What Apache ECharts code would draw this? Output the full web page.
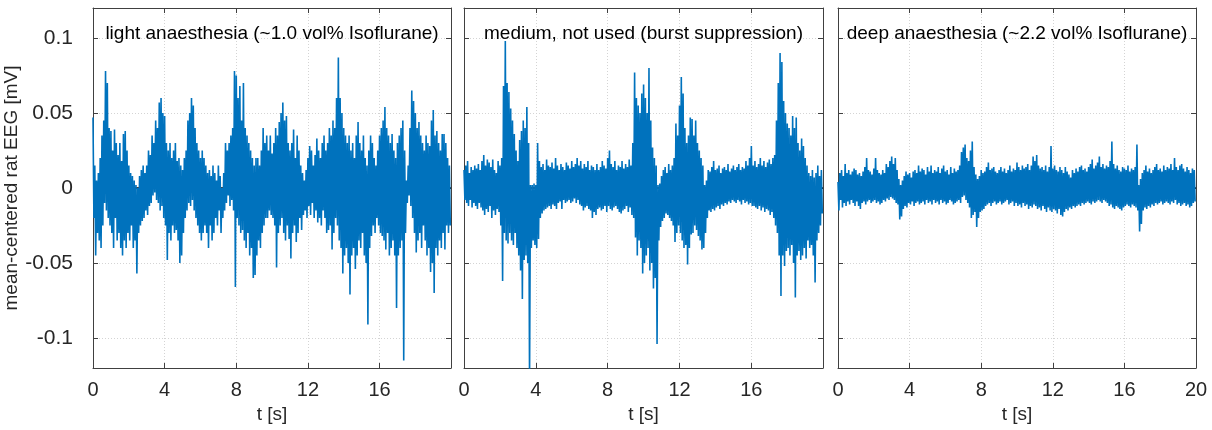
<!DOCTYPE html>
<html><head><meta charset="utf-8">
<script src="https://cdn.jsdelivr.net/npm/echarts@6/dist/echarts.min.js"></script>
<style>html,body{margin:0;padding:0;background:#fff}#c{width:1212px;height:430px}</style>
</head><body><div id="c"></div>
<script>
// ---- data (in microvolts; envelope per 0.1 s bin) ----
const panelTitles = ['light anaesthesia (~1.0 vol% Isoflurane)', 'medium, not used (burst suppression)', 'deep anaesthesia (~2.2 vol% Isoflurane)'];
const xTicks = [0, 4, 8, 12, 16, 20];
const yTicks = [-0.1, -0.05, 0, 0.05, 0.1];
const binStep = 0.1; // s, width of each envelope bin
const xAxisName = 't [s]';
const yAxisName = 'mean-centered rat EEG [mV]';

const lightHi = [47,15,5,10,20,35,45,78,70,40, 38,25,39,30,22,30,18,36,38,25, 15,10,8,5,2,0,8,12,15,10, 15,25,22,35,30,45,40,57,60,50,
 48,30,25,30,20,25,30,18,20,15, 12,20,25,45,50,60,55,40,30,25, 20,25,20,15,10,12,8,15,10,5, 15,8,0,10,30,25,30,35,40,78,
 75,60,68,45,70,40,35,30,25,20, 15,20,20,15,25,40,30,35,25,35,
 23,30,40,35,44,50,57,45,48,30, 25,30,39,20,35,25,15,10,5,12, 20,28,25,15,22,33,25,20,30,35, 25,30,40,35,45,40,60,87,60,50,
 40,35,30,35,25,30,20,35,44,30, 25,35,20,15,25,35,30,20,15,25, 35,40,45,54,40,35,30,36,25,20, 30,35,40,45,25,5,15,40,65,58,
 50,40,44,35,30,25,35,30,28,45, 52,35,38,30,25,36,36,30,20,15];
const lightLo = [-20,-45,-30,-35,-40,-25,-10,-15,-20,-25, -30,-40,-20,-35,-30,-40,-45,-35,-40,-30, -35,-25,-40,-35,-57,-30,-25,-22,-20,-15, -18,-12,-10,-5,-3,-8,-10,-15,-12,-20,
 -25,-48,-30,-35,-25,-30,-28,-35,-50,-45, -30,-20,-15,-10,-12,-8,-15,-20,-25,-30, -35,-30,-25,-30,-40,-25,-35,-30,-20,-25, -15,-30,-20,-15,-10,-5,-12,-8,-15,-66,
 -20,-25,-30,-28,-35,-40,-30,-45,-40,-60, -58,-45,-35,-40,-30,-25,-20,-20,-15,-18,
 -20,-25,-53,-30,-25,-20,-30,-35,-25,-34, -47,-30,-25,-36,-30,-20,-28,-18,-15,-20, -12,-18,-10,-20,-15,-23,-20,-25,-15,-20, -30,-28,-25,-41,-30,-20,-25,-35,-40,-57,
 -45,-40,-50,-71,-45,-40,-54,-45,-35,-40, -30,-45,-50,-91,-40,-32,-25,-30,-20,-25, -30,-32,-35,-41,-30,-45,-40,-35,-45,-80, -45,-40,-35,-115,-30,-10,-5,-12,-20,-30,
 -43,-35,-30,-40,-25,-35,-45,-40,-56,-50, -70,-40,-45,-35,-40,-30,-41,-25,-30,-25];

const mediumHi = [12,15,18,10,14,12,15,13,16,12, 18,22,15,19,17,14,19,12,10,18, 15,20,68,98,70,64,53,45,36,25, 18,32,38,45,40,54,30,2,2,3,
 2,30,18,14,16,12,19,15,14,17, 13,20,15,12,16,14,12,17,15,13, 18,14,16,20,15,18,13,16,14,18, 12,15,14,12,16,12,14,18,15,13,
 20,25,16,14,18,12,15,14,18,13, 16,14,19,15,30,77,60,55,50,63,
 69,60,50,80,45,27,20,15,2,3, 8,12,14,10,16,12,15,20,43,35, 55,74,63,40,30,35,47,46,35,45, 30,25,20,15,2,5,12,11,14,18,
 12,13,15,10,13,14,12,16,11,13, 15,12,14,16,12,14,13,18,15,20, 28,15,18,14,16,20,15,18,14,17, 19,16,20,22,45,70,90,84,58,50,
 43,40,35,48,40,47,30,25,33,28, 20,15,10,8,12,7,10,15,8,12];
const mediumLo = [-8,-10,-12,-8,-13,-10,-12,-14,-10,-13, -15,-18,-14,-16,-12,-20,-15,-18,-14,-16, -25,-62,-30,-35,-37,-30,-35,-38,-30,-40, -45,-55,-74,-48,-45,-50,-130,-40,-35,-38,
 -40,-34,-20,-17,-15,-14,-13,-12,-14,-11, -12,-14,-10,-9,-14,-8,-10,-9,-8,-10, -9,-7,-10,-8,-11,-12,-15,-13,-12,-14, -15,-20,-16,-18,-14,-13,-15,-14,-12,-16,
 -12,-14,-15,-13,-12,-14,-16,-17,-15,-14, -12,-16,-13,-18,-20,-33,-45,-35,-40,-57,
 -50,-45,-40,-55,-50,-67,-60,-104,-35,-26, -22,-20,-17,-18,-20,-22,-25,-36,-30,-25, -30,-35,-40,-38,-51,-40,-31,-30,-25,-28, -32,-35,-41,-40,-30,-20,-15,-16,-14,-15,
 -13,-12,-14,-11,-12,-10,-11,-9,-10,-8, -9,-10,-8,-9,-11,-8,-10,-9,-11,-10, -12,-12,-13,-14,-12,-15,-13,-16,-14,-15, -18,-16,-20,-25,-30,-45,-72,-45,-52,-42,
 -40,-45,-38,-50,-73,-45,-42,-48,-45,-40, -47,-35,-40,-38,-45,-63,-35,-30,-25,-17];

const deepHi = [4,10,12,8,16,10,12,9,11,13, 12,9,10,8,11,14,20,12,11,9, 13,20,12,10,9,12,10,16,14,18, 21,16,20,12,6,2,5,8,11,9,
 10,7,11,12,10,15,11,13,12,9, 14,11,15,10,12,11,14,10,13,15, 11,12,9,14,10,13,11,12,15,24, 27,29,20,18,25,31,14,9,6,8,
 12,10,11,14,17,12,13,14,11,10, 12,14,11,13,10,12,15,11,13,12,
 17,14,12,15,13,14,16,12,15,21, 18,22,15,13,14,12,15,11,14,28, 13,15,12,11,14,12,10,14,11,9, 7,12,10,13,11,14,15,12,13,11,
 14,16,19,13,15,17,21,14,16,13, 15,14,18,31,16,13,15,12,11,14, 13,12,15,11,13,12,14,29,2,6, 10,12,15,11,13,10,12,14,16,12,
 13,11,15,12,14,13,16,12,20,14, 12,15,16,13,11,14,12,10,13,12];
const deepLo = [-15,-8,-13,-10,-12,-9,-11,-8,-10,-12, -9,-12,-14,-10,-9,-11,-9,-8,-10,-9, -8,-10,-9,-11,-10,-8,-9,-7,-8,-6, -7,-8,-10,-11,-21,-19,-14,-12,-13,-10,
 -11,-9,-12,-10,-9,-11,-10,-9,-11,-8, -10,-9,-11,-8,-10,-9,-11,-8,-10,-9, -11,-10,-8,-9,-11,-10,-9,-8,-10,-6, -5,-8,-10,-13,-20,-18,-16,-26,-20,-16,
 -15,-14,-12,-11,-10,-12,-10,-9,-11,-10, -9,-11,-10,-9,-8,-11,-10,-9,-12,-10,
 -12,-11,-13,-10,-12,-11,-14,-12,-13,-11, -12,-14,-13,-15,-12,-14,-16,-13,-15,-16, -14,-15,-17,-14,-18,-19,-16,-14,-15,-13, -14,-12,-13,-12,-11,-12,-10,-11,-10,-9,
 -10,-11,-9,-10,-9,-8,-9,-10,-8,-9, -10,-12,-11,-13,-14,-12,-13,-14,-15,-13, -12,-11,-12,-13,-11,-12,-13,-15,-29,-24, -15,-13,-14,-12,-13,-11,-12,-10,-11,-10,
 -9,-11,-10,-9,-10,-11,-9,-10,-8,-11, -10,-12,-11,-10,-12,-11,-13,-12,-10,-9];

// ---- chart ----
const FONT = "'Liberation Sans', Arial, Helvetica, sans-serif";
const AX = '#404040', TXT = '#262626', BLUE = '#0072BD';
const panels = [
  {hi: lightHi, lo: lightLo, left: 93, width: 358, xMax: 19.99},
  {hi: mediumHi, lo: mediumLo, left: 464, width: 359, xMax: 19.99},
  {hi: deepHi, lo: deepLo, left: 838, width: 358, xMax: 20}
];
function envelope(hi, lo) {
  const out = [];
  for (let i = 0; i < hi.length; i++) {
    const t = +(i * binStep).toFixed(3);
    out.push([t, hi[i] / 1000]);
    out.push([+(t + binStep / 2).toFixed(3), lo[i] / 1000]);
  }
  return out;
}
const isTick = (list, v) => list.some(t => Math.abs(t - v) < 1e-9);
const grid = [], xAxis = [], yAxis = [], series = [], graphic = [];
panels.forEach((p, k) => {
  grid.push({left: p.left, width: p.width, top: 8, height: 360, containLabel: false});
  const common = {gridIndex: k, type: 'value',
    axisLine: {show: true, onZero: false, lineStyle: {color: AX, width: 1}},
    axisTick: {show: true, inside: true, length: 5, lineStyle: {color: AX}}};
  xAxis.push(Object.assign({}, common, {position: 'bottom', min: 0, max: p.xMax, interval: 4,
    axisLabel: {fontSize: 20, color: TXT, fontFamily: FONT, margin: 12,
      formatter: v => isTick(xTicks, v) ? String(v) : ''},
    splitLine: {show: true, lineStyle: {type: [1, 2], color: '#d4d4d4', width: 1}},
    name: xAxisName, nameLocation: 'middle', nameGap: 37,
    nameTextStyle: {fontSize: 19, color: TXT, fontFamily: FONT}}));
  xAxis.push(Object.assign({}, common, {position: 'top', min: 0, max: p.xMax, interval: 4,
    axisLabel: {show: false}, splitLine: {show: false}}));
  yAxis.push(Object.assign({}, common, {position: 'left', min: -0.12, max: 0.12, splitNumber: 5,
    axisLabel: {show: k === 0, fontSize: 21, color: TXT, fontFamily: FONT, margin: 20,
      formatter: v => isTick(yTicks, v) ? String(v) : ''},
    splitLine: {show: true, lineStyle: {type: [1, 2], color: '#d4d4d4', width: 1}},
    name: k === 0 ? yAxisName : '', nameLocation: 'middle', nameGap: 59,
    nameTextStyle: {fontSize: 19, color: TXT, fontFamily: FONT}}));
  yAxis.push(Object.assign({}, common, {position: 'right', min: -0.12, max: 0.12, splitNumber: 5,
    axisLabel: {show: false}, splitLine: {show: false}}));
  series.push({type: 'line', xAxisIndex: 2 * k, yAxisIndex: 2 * k, data: [[0, 0], [p.xMax, 0]],
    symbol: 'none', silent: true, z: 1, lineStyle: {color: '#000', width: 1.5}});
  series.push({type: 'line', xAxisIndex: 2 * k, yAxisIndex: 2 * k, data: envelope(p.hi, p.lo),
    symbol: 'none', showSymbol: false, z: 2, clip: true, lineStyle: {color: BLUE, width: 1.6}});
  graphic.push({type: 'text', x: p.left + p.width / 2, y: 34, z: 10,
    style: {text: panelTitles[k], align: 'center', verticalAlign: 'middle',
      fontSize: 19, fontFamily: FONT, fill: '#000'}});
});
const chart = echarts.init(document.getElementById('c'), null, {renderer: 'canvas'});
chart.setOption({animation: false, backgroundColor: '#fff', grid, xAxis, yAxis, series, graphic});
</script></body></html>
